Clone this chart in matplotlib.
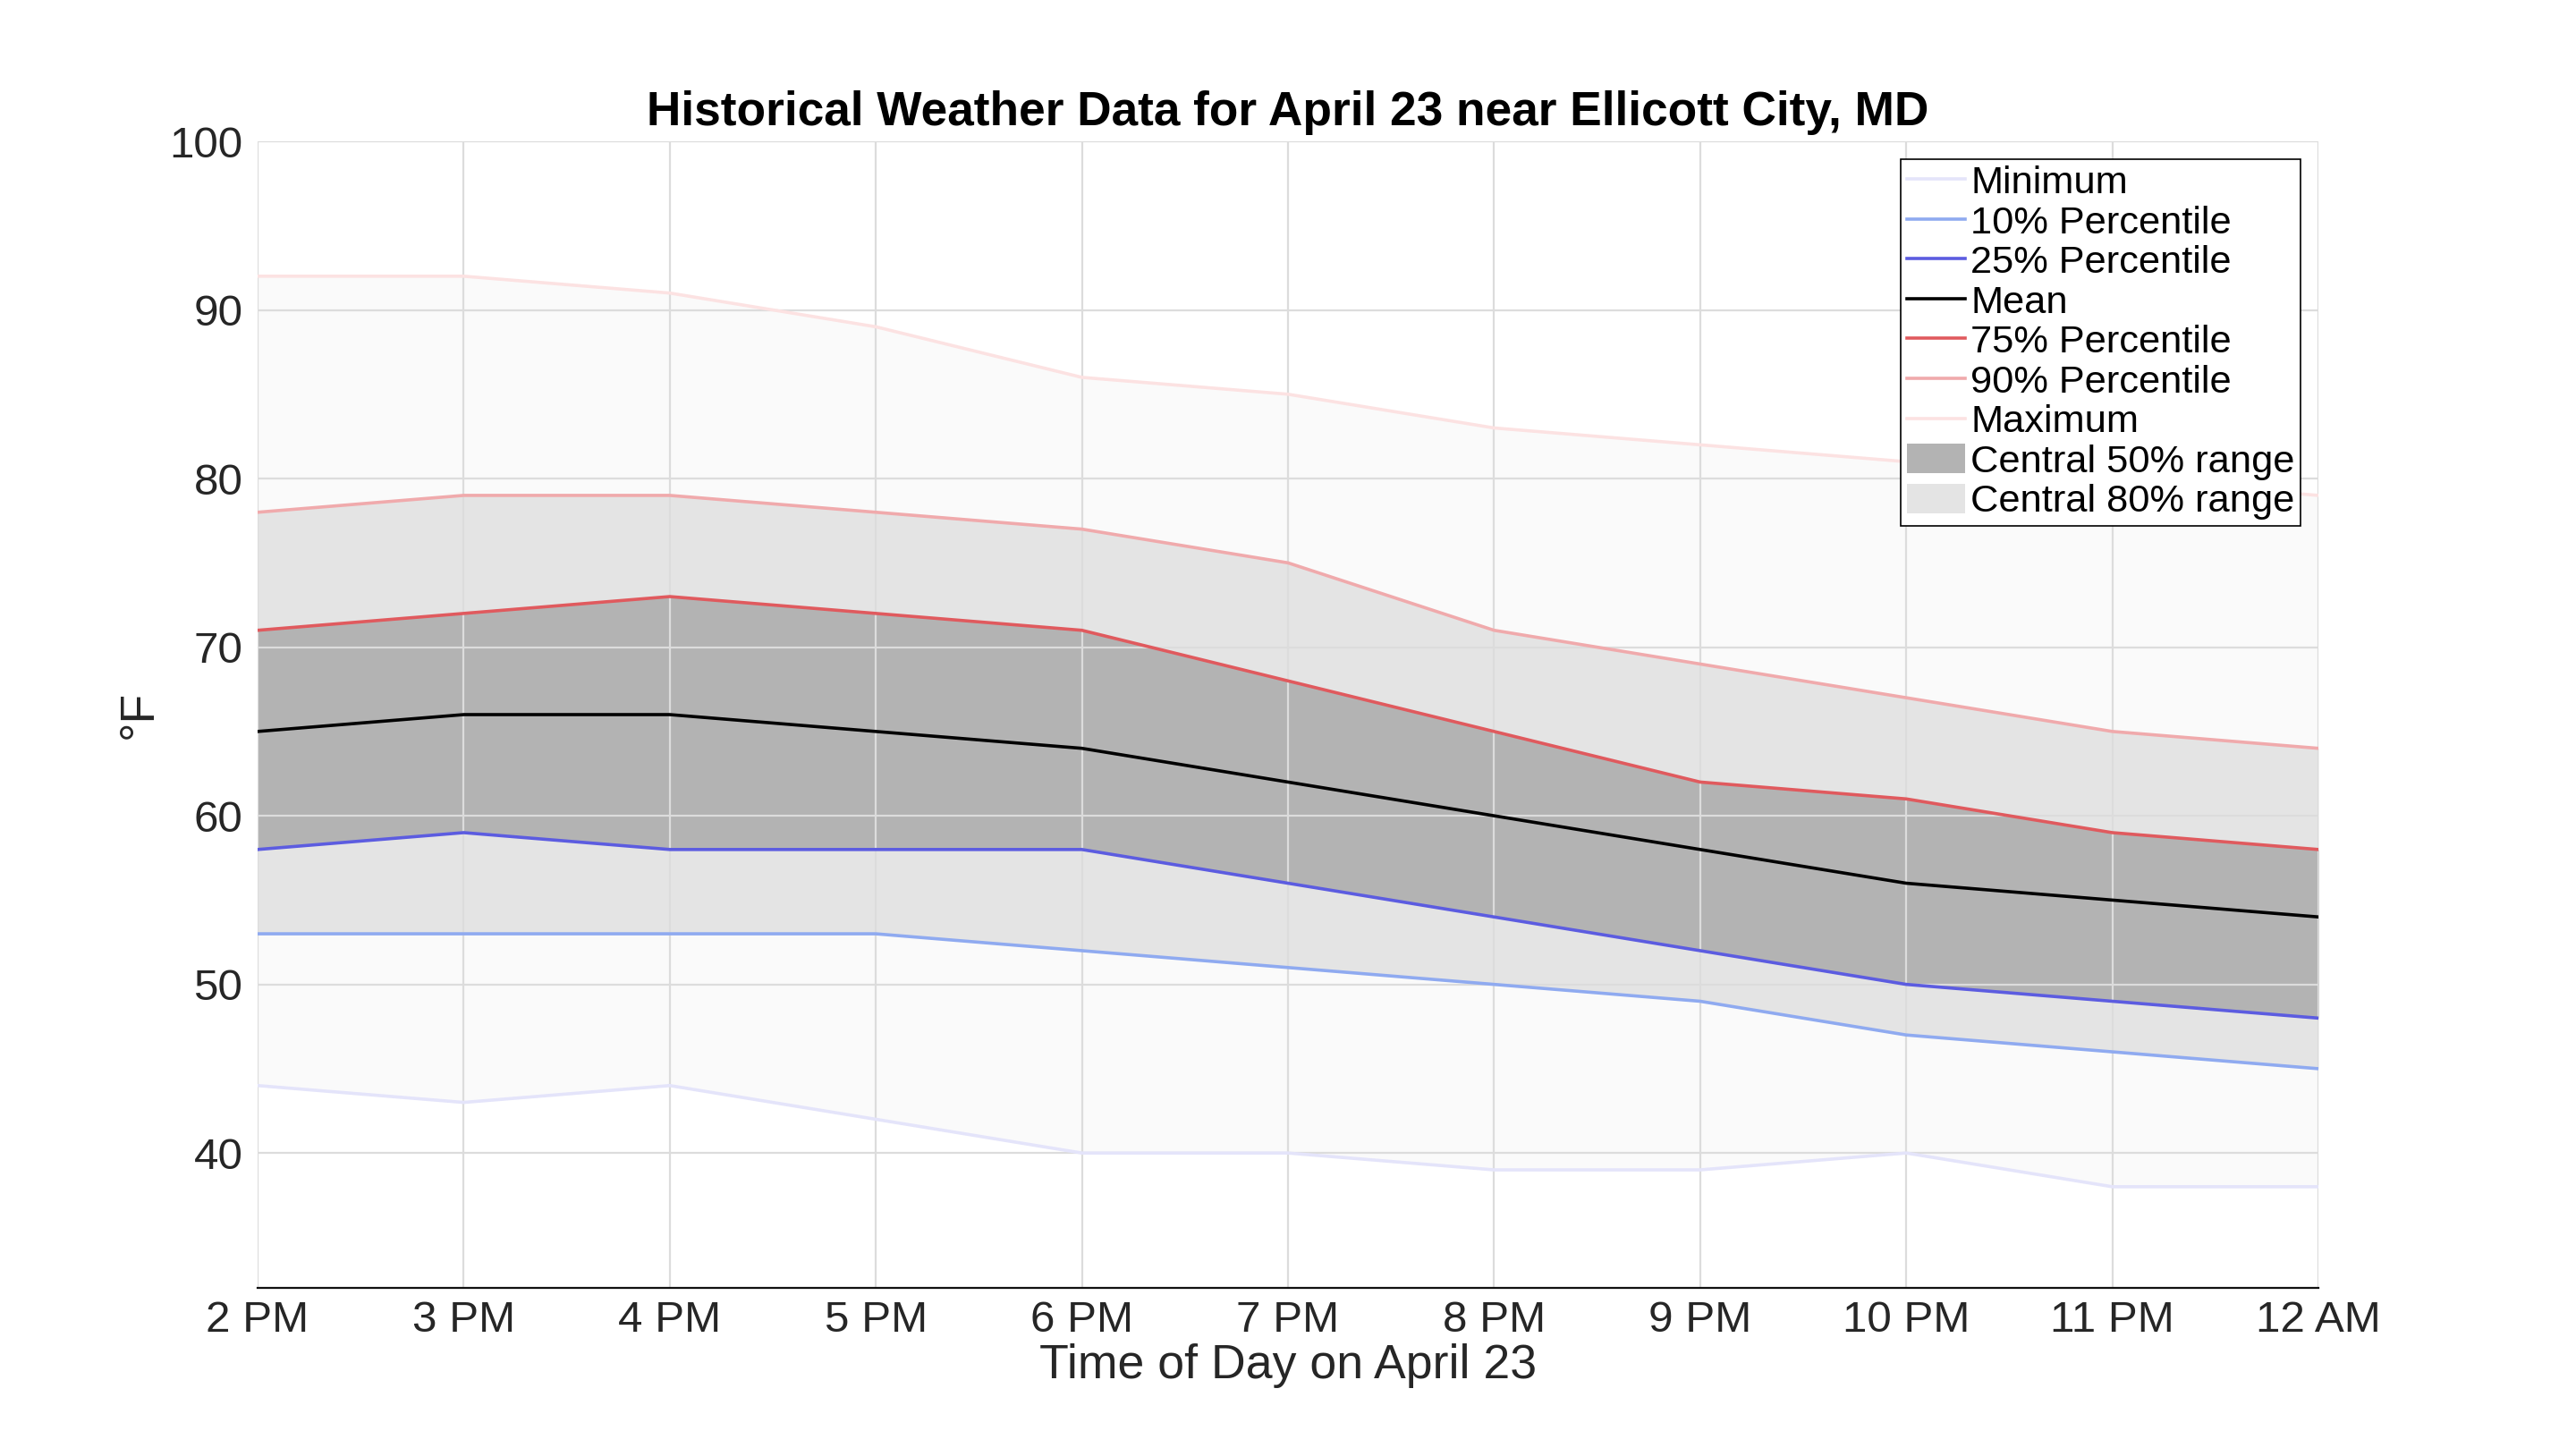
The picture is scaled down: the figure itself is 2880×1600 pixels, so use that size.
import matplotlib
matplotlib.use("Agg")
import matplotlib.pyplot as plt
from matplotlib.patches import Patch

hours = ["2 PM", "3 PM", "4 PM", "5 PM", "6 PM", "7 PM", "8 PM", "9 PM", "10 PM", "11 PM", "12 AM"]
t_min = [44, 43, 44, 42, 40, 40, 39, 39, 40, 38, 38]
p10 = [53, 53, 53, 53, 52, 51, 50, 49, 47, 46, 45]
p25 = [58, 59, 58, 58, 58, 56, 54, 52, 50, 49, 48]
t_mean = [65, 66, 66, 65, 64, 62, 60, 58, 56, 55, 54]
p75 = [71, 72, 73, 72, 71, 68, 65, 62, 61, 59, 58]
p90 = [78, 79, 79, 78, 77, 75, 71, 69, 67, 65, 64]
t_max = [92, 92, 91, 89, 86, 85, 83, 82, 81, 80, 79]
yticks = [40, 50, 60, 70, 80, 90, 100]

plt.rcParams['font.family'] = ['Liberation Sans', 'DejaVu Sans']

fig = plt.figure(figsize=(14.4, 8), dpi=200)
ax = fig.add_axes([288/2880, 1 - 1440/1600, (2592-288)/2880, (1440-158)/1600])

x = list(range(len(hours)))
ax.fill_between(x, t_min, t_max, color='#FAFAFA', lw=0, zorder=1)
ax.fill_between(x, p10, p90, color='#E4E4E4', lw=0, zorder=1)
ax.fill_between(x, p25, p75, color='#B3B3B3', lw=0, zorder=1)

lw = 1.3
series = [
    (t_min, '#E4E4FA', 'Minimum'),
    (p10, '#8FAAF0', '10% Percentile'),
    (p25, '#5C5CE0', '25% Percentile'),
    (t_mean, '#000000', 'Mean'),
    (p75, '#E05A5E', '75% Percentile'),
    (p90, '#F0AAAC', '90% Percentile'),
    (t_max, '#FCE2E2', 'Maximum'),
]
handles = []
for vals, c, lab in series:
    ln, = ax.plot(x, vals, color=c, lw=lw, zorder=3, label=lab, solid_joinstyle='miter')
    handles.append(ln)
handles.append(Patch(facecolor='#B3B3B3', edgecolor='none', label='Central 50% range'))
handles.append(Patch(facecolor='#E4E4E4', edgecolor='none', label='Central 80% range'))

ax.set_xlim(0, len(hours) - 1)
ax.set_ylim(32, 100)
ax.set_xticks(x)
ax.set_xticklabels(hours)
ax.set_yticks(yticks)
ax.set_axisbelow('line')
ax.grid(True, color='#DCDCDC', lw=0.8, zorder=2)
for s in ['left', 'top', 'right']:
    ax.spines[s].set_visible(False)
ax.spines['bottom'].set_color('#111111')
ax.spines['bottom'].set_linewidth(0.8)
ax.spines['bottom'].set_zorder(4)
ax.tick_params(axis='both', length=0, labelsize=17.8, colors='#262626')
ax.tick_params(axis='x', pad=5)
ax.tick_params(axis='y', pad=6)

ax.set_xlabel('Time of Day on April 23', fontsize=19.3, color='#262626', labelpad=1)
ax.set_ylabel('°F', fontsize=19.3, color='#262626', labelpad=3)
ax.set_title('Historical Weather Data for April 23 near Ellicott City, MD',
             fontsize=19.2, fontweight='bold', pad=6.5)

leg = ax.legend(handles=handles, loc='upper right', bbox_to_anchor=(2572/2880, 1 - 178/1600),
                bbox_transform=fig.transFigure, fontsize=15.6, frameon=True, fancybox=False,
                framealpha=1, edgecolor='#000000', borderpad=0.15, labelspacing=0.09,
                handlelength=1.5, handletextpad=0.15, borderaxespad=0, handleheight=0.8)
leg.get_frame().set_linewidth(0.6)
leg.set_zorder(5)

fig.savefig('out.png', dpi=200, facecolor='white')
